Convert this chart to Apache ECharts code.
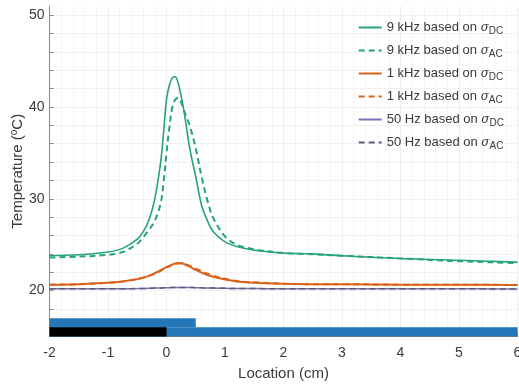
<!DOCTYPE html>
<html>
<head>
<meta charset="utf-8">
<script src="https://cdn.jsdelivr.net/npm/echarts@6/dist/echarts.min.js"></script>
<style>
  html, body { margin: 0; padding: 0; background: #fff; }
  #chart { width: 519px; height: 384px; }
</style>
</head>
<body>
<div id="chart"></div>
<script>
// Sample locations along the strip (cm)
const locationCm = [-2, -1.5, -1, -0.75, -0.5, -0.4, -0.3, -0.2, -0.1, -0.05, 0, 0.05, 0.1, 0.15, 0.2, 0.25, 0.3, 0.4, 0.5, 0.6, 0.7, 0.8, 1.0, 1.2, 1.5, 2, 2.5, 3, 4, 5, 6];

// Temperatures (°C) for each excitation case
const temp9kHzDC = [23.8, 23.9, 24.2, 24.6, 25.6, 26.4, 27.7, 30.0, 34.0, 37.2, 40.8, 42.4, 43.2, 43.3, 42.6, 41.2, 39.5, 35.4, 32.4, 29.3, 27.6, 26.4, 25.3, 24.8, 24.4, 24.1, 24.0, 23.8, 23.5, 23.3, 23.1];
const temp9kHzAC = [23.6, 23.7, 23.9, 24.2, 25.1, 25.8, 26.6, 27.6, 29.5, 31.8, 35.0, 37.8, 40.0, 40.8, 41.0, 40.5, 39.6, 37.9, 35.5, 32.4, 29.8, 27.9, 25.9, 25.0, 24.5, 24.1, 23.95, 23.8, 23.5, 23.2, 23.0];
const temp1kHzDC = [20.65, 20.7, 20.85, 21.0, 21.25, 21.4, 21.6, 21.9, 22.2, 22.4, 22.55, 22.7, 22.85, 22.95, 23.0, 23.0, 22.9, 22.6, 22.25, 21.95, 21.7, 21.5, 21.2, 21.0, 20.85, 20.75, 20.7, 20.7, 20.65, 20.65, 20.6];
const temp1kHzAC = [20.65, 20.7, 20.85, 21.0, 21.25, 21.4, 21.6, 21.85, 22.15, 22.35, 22.5, 22.65, 22.8, 22.9, 22.95, 22.95, 22.9, 22.7, 22.4, 22.1, 21.85, 21.6, 21.3, 21.05, 20.9, 20.75, 20.7, 20.7, 20.65, 20.65, 20.6];
const temp50HzDC = [20.2, 20.2, 20.2, 20.21, 20.22, 20.23, 20.25, 20.27, 20.29, 20.3, 20.3, 20.32, 20.34, 20.35, 20.35, 20.35, 20.34, 20.33, 20.32, 20.3, 20.29, 20.27, 20.25, 20.23, 20.22, 20.2, 20.2, 20.2, 20.19, 20.19, 20.18];
const temp50HzAC = [20.2, 20.2, 20.2, 20.21, 20.22, 20.23, 20.25, 20.27, 20.29, 20.3, 20.31, 20.32, 20.34, 20.35, 20.35, 20.35, 20.34, 20.33, 20.32, 20.3, 20.29, 20.27, 20.25, 20.23, 20.22, 20.2, 20.2, 20.2, 20.19, 20.19, 20.18];

// Legend labels
const seriesNames = [
  '9 kHz based on σ_DC', '9 kHz based on σ_AC',
  '1 kHz based on σ_DC', '1 kHz based on σ_AC',
  '50 Hz based on σ_DC', '50 Hz based on σ_AC'
];

// Strip layout drawn under the curves: [xStart, xEnd, yBottom, yTop]
const stripBlue = [[-2, 6, 15, 16], [-2, 0.5, 16, 17]];
const stripBlack = [[-2, 0, 15, 16]];

const xTicks = [-2, -1, 0, 1, 2, 3, 4, 5, 6];
const yTickLabels = [20, 30, 40, 50];

const GREEN = '#25a37c';
const ORANGE = '#d9621c';
const PURPLE = '#7b6fb3';
const PURPLE_DASH = '#5e5a7a';
const FONT = 'Liberation Sans, Arial, sans-serif';
const TEXT = '#3a3a3a';

function pairs(ys) { return locationCm.map((x, i) => [x, ys[i]]); }

function lineSeries(name, ys, color, dashed, width) {
  return {
    name: name,
    type: 'line',
    data: pairs(ys),
    showSymbol: false,
    symbol: 'none',
    smooth: 0.35,
    z: 3,
    lineStyle: { color: color, width: width, type: dashed ? [6, 4] : 'solid' },
    itemStyle: { color: color }
  };
}

function rectSeries(rects, color) {
  return {
    type: 'custom',
    data: rects,
    z: 1,
    silent: true,
    renderItem: function (params, api) {
      const p0 = api.coord([api.value(0), api.value(3)]);
      const p1 = api.coord([api.value(1), api.value(2)]);
      return {
        type: 'rect',
        shape: { x: p0[0], y: p0[1], width: p1[0] - p0[0], height: p1[1] - p0[1] },
        style: { fill: color }
      };
    },
    encode: { x: [0, 1], y: [2, 3] }
  };
}

const chart = echarts.init(document.getElementById('chart'), null, { renderer: 'canvas' });

chart.setOption({
  animation: false,
  backgroundColor: '#fff',
  grid: { left: 49.5, right: 1.5, top: 6, bottom: 47.5, containLabel: false, outerBoundsMode: 'none' },
  legend: {
    data: seriesNames,
    orient: 'vertical',
    right: 10,
    top: 14,
    itemWidth: 23,
    itemHeight: 10,
    itemGap: 6,
    itemStyle: { opacity: 0 },
    textStyle: {
      fontFamily: FONT, fontSize: 13, color: TEXT, lineHeight: 17,
      rich: {
        t: { fontFamily: FONT, fontSize: 13, color: TEXT, lineHeight: 17 },
        sig: { fontFamily: 'DejaVu Serif, serif', fontStyle: 'italic', fontSize: 12, color: TEXT, lineHeight: 17 },
        sub: { fontFamily: FONT, fontSize: 10, color: TEXT, lineHeight: 10, verticalAlign: 'bottom' }
      }
    },
    formatter: function (name) {
      const m = name.match(/^(.*)σ_(\w+)$/);
      return '{t|' + m[1] + '}{sig|σ}{sub|' + m[2] + '}';
    }
  },
  xAxis: {
    type: 'value',
    min: -2, max: 6, interval: 1,
    name: 'Location (cm)',
    nameLocation: 'middle',
    nameGap: 30,
    nameMoveOverlap: false,
    nameTextStyle: { fontFamily: FONT, fontSize: 15, color: TEXT },
    axisLine: { show: true, onZero: false, lineStyle: { color: '#8a8a8a', width: 1 } },
    axisTick: { show: true, inside: true, length: 4, lineStyle: { color: '#8a8a8a' } },
    axisLabel: { fontFamily: FONT, fontSize: 14, color: TEXT, margin: 10, customValues: xTicks },
    splitLine: { show: true, lineStyle: { color: '#eeeeee', width: 1 } },
    minorTick: { show: false, splitNumber: 5 },
    minorSplitLine: { show: true, lineStyle: { color: '#f5f5f5', width: 1 } }
  },
  yAxis: {
    type: 'value',
    min: 15, max: 51, interval: 1,
    name: 'Temperature ({sup|o}C)',
    nameLocation: 'middle',
    nameGap: 23,
    nameMoveOverlap: false,
    nameRotate: 90,
    nameTextStyle: {
      fontFamily: FONT, fontSize: 15, color: TEXT,
      rich: { sup: { fontFamily: FONT, fontSize: 10, color: TEXT, verticalAlign: 'top', lineHeight: 17 } }
    },
    axisLine: { show: true, onZero: false, lineStyle: { color: '#8a8a8a', width: 1 } },
    axisTick: {
      show: true, inside: true, length: 4, lineStyle: { color: '#8a8a8a' },
      customValues: [16, 18, 20, 22, 24, 26, 28, 30, 32, 34, 36, 38, 40, 42, 44, 46, 48, 50]
    },
    axisLabel: { fontFamily: FONT, fontSize: 14, color: TEXT, margin: 5, customValues: yTickLabels },
    splitLine: { show: true, lineStyle: { color: '#f1f1f1', width: 1 } }
  },
  series: [
    rectSeries(stripBlue, '#2477b6'),
    rectSeries(stripBlack, '#000000'),
    lineSeries(seriesNames[0], temp9kHzDC, GREEN, false, 1.6),
    lineSeries(seriesNames[1], temp9kHzAC, GREEN, true, 2),
    lineSeries(seriesNames[2], temp1kHzDC, ORANGE, false, 2),
    lineSeries(seriesNames[3], temp1kHzAC, ORANGE, true, 2),
    lineSeries(seriesNames[4], temp50HzDC, PURPLE, false, 1.5),
    lineSeries(seriesNames[5], temp50HzAC, PURPLE_DASH, true, 1.5)
  ]
});
</script>
</body>
</html>
